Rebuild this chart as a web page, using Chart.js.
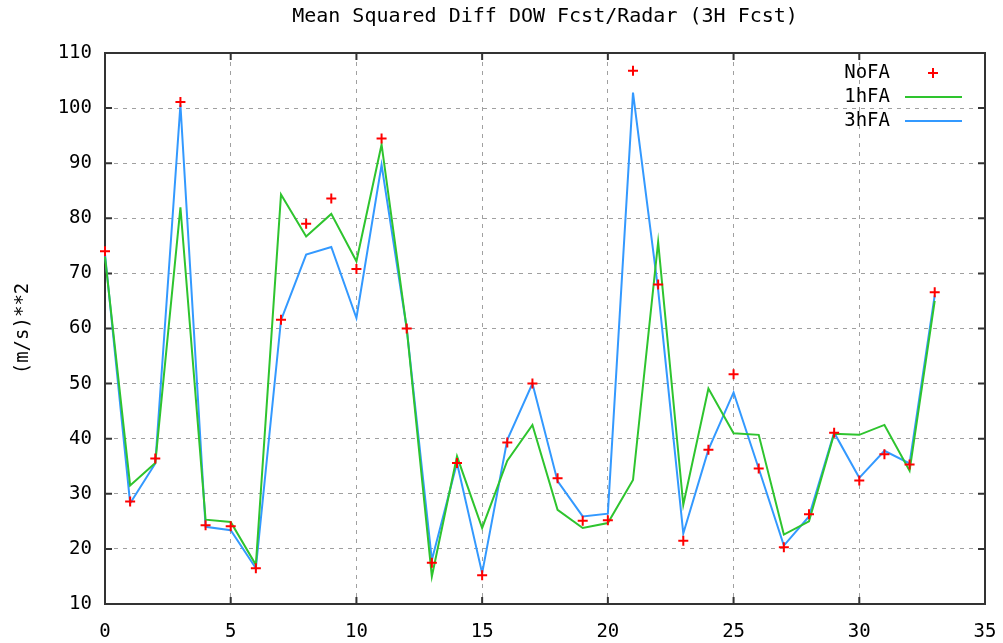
<!DOCTYPE html>
<html>
<head>
<meta charset="utf-8">
<script src="https://cdn.jsdelivr.net/npm/chart.js@4/dist/chart.umd.min.js"></script>
<style>
	html, body { margin: 0; padding: 0; background: #fff; }
	#wrap { width: 1003px; height: 643px; }
</style>
</head>
<body>
<div id="wrap"><canvas id="msd-chart"></canvas></div>
<script>
// Forecast hour index.
var steps = [0,1,2,3,4,5,6,7,8,9,10,11,12,13,14,15,16,17,18,19,20,21,22,23,24,25,26,27,28,29,30,31,32,33];

// Series values, (m/s)**2.
var noFA = [74.0,28.6,36.4,101.1,24.3,24.1,16.5,61.6,79.0,83.6,70.8,94.5,60.0,17.5,35.6,15.2,39.3,50.0,32.8,25.1,25.2,106.8,68.0,21.5,38.0,51.7,34.6,20.3,26.3,41.1,32.4,37.2,35.3,66.6];
var oneHFA = [73.0,31.5,35.6,82.0,25.3,24.9,17.1,84.3,76.7,80.8,72.2,93.4,60.0,15.0,36.8,23.8,36.0,42.5,27.1,23.8,24.7,32.5,75.7,28.0,49.1,41.0,40.7,22.6,25.0,40.9,40.7,42.5,34.2,65.0];
var threeHFA = [73.5,28.3,35.5,100.6,24.0,23.4,16.5,61.5,73.4,74.8,61.9,89.7,60.0,18.0,35.6,15.6,39.8,50.0,32.3,25.9,26.4,102.8,67.0,22.8,38.0,48.4,34.6,20.6,25.9,41.1,32.9,37.8,35.5,66.0];

var seriesNames = ["NoFA", "1hFA", "3hFA"];
var seriesColors = ["#ff0000", "#2ec42e", "#3399ff"];

function pts(vals) {
	return steps.map(function (s, i) { return { x: s, y: vals[i] }; });
}

var FONT = "'DejaVu Sans Mono', monospace";

// Frame, inward ticks and legend, gnuplot style.
var gnuplotBits = {
	id: 'gnuplotBits',
	beforeDatasetsDraw: function (chart) {
		var ctx = chart.ctx, a = chart.chartArea;
		var xs = chart.scales.x, ys = chart.scales.y;
		ctx.save();
		ctx.strokeStyle = "#333";
		ctx.lineWidth = 2;
		ctx.strokeRect(a.left, a.top, a.right - a.left, a.bottom - a.top);
		ctx.beginPath();
		xs.ticks.forEach(function (t) {
			var px = xs.getPixelForValue(t.value);
			ctx.moveTo(px, a.bottom); ctx.lineTo(px, a.bottom - 7);
			ctx.moveTo(px, a.top); ctx.lineTo(px, a.top + 7);
		});
		ys.ticks.forEach(function (t) {
			var py = ys.getPixelForValue(t.value);
			ctx.moveTo(a.left, py); ctx.lineTo(a.left + 7, py);
			ctx.moveTo(a.right, py); ctx.lineTo(a.right - 7, py);
		});
		ctx.stroke();
		ctx.restore();
	},
	afterDatasetsDraw: function (chart) {
		var ctx = chart.ctx;
		ctx.save();
		// Legend.
		ctx.font = "19px " + FONT;
		ctx.textAlign = "right";
		ctx.textBaseline = "middle";
		ctx.fillStyle = "#000";
		var rows = [73, 97, 121];
		seriesNames.forEach(function (n, i) {
			ctx.fillText(n, 890, rows[i]);
		});
		ctx.lineWidth = 2;
		ctx.strokeStyle = seriesColors[0];
		ctx.beginPath();
		ctx.moveTo(928, rows[0]); ctx.lineTo(938, rows[0]);
		ctx.moveTo(933, rows[0] - 5); ctx.lineTo(933, rows[0] + 5);
		ctx.stroke();
		[1, 2].forEach(function (i) {
			ctx.strokeStyle = seriesColors[i];
			ctx.beginPath();
			ctx.moveTo(905, rows[i]); ctx.lineTo(962, rows[i]);
			ctx.stroke();
		});
		ctx.restore();
	}
};

new Chart(document.getElementById("msd-chart"), {
	type: 'line',
	data: {
		datasets: [
			{
				label: seriesNames[0],
				data: pts(noFA),
				showLine: false,
				pointStyle: 'cross',
				pointRadius: 5,
				pointBorderWidth: 2,
				borderColor: seriesColors[0],
				backgroundColor: seriesColors[0],
				clip: false
			},
			{
				label: seriesNames[1],
				data: pts(oneHFA),
				borderColor: seriesColors[1],
				borderWidth: 2,
				pointRadius: 0,
				tension: 0,
				clip: false
			},
			{
				label: seriesNames[2],
				data: pts(threeHFA),
				borderColor: seriesColors[2],
				borderWidth: 2,
				pointRadius: 0,
				tension: 0,
				clip: false
			}
		]
	},
	options: {
		responsive: true,
		maintainAspectRatio: false,
		animation: false,
		layout: { padding: { right: 18, left: 0, top: 0, bottom: 0 } },
		plugins: {
			legend: { display: false },
			tooltip: { enabled: false },
			title: {
				display: true,
				fullSize: false,
				text: 'Mean Squared Diff DOW Fcst/Radar (3H Fcst)',
				color: '#000',
				font: { family: FONT, size: 20, weight: 'normal', lineHeight: 1.2 },
				padding: { top: 5, bottom: 24 }
			}
		},
		scales: {
			x: {
				type: 'linear',
				min: 0,
				max: 35,
				ticks: { stepSize: 5, color: '#000', padding: 17, font: { family: FONT, size: 19 } },
				grid: { color: '#a0a0a0', lineWidth: 1, drawTicks: false },
				border: { display: false, dash: [4, 5] },
				afterFit: function (s) {
					s.height = 39;
					s.paddingLeft = 0;
					s.paddingRight = 0;
				}
			},
			y: {
				min: 10,
				max: 110,
				ticks: { stepSize: 10, color: '#000', padding: 13, font: { family: FONT, size: 19 } },
				grid: { color: '#a0a0a0', lineWidth: 1, drawTicks: false },
				border: { display: false, dash: [4, 5] },
				title: {
					display: true,
					text: '(m/s)**2',
					color: '#000',
					font: { family: FONT, size: 19 },
					padding: { top: 12, bottom: 0 }
				},
				afterFit: function (s) { s.width = 105; }
			}
		}
	},
	plugins: [gnuplotBits]
});
</script>
</body>
</html>
